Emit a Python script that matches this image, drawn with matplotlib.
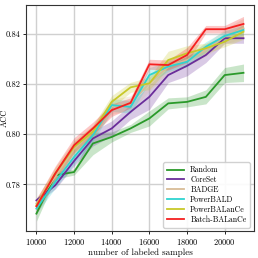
import numpy as np
import matplotlib
matplotlib.use("Agg")
import matplotlib.pyplot as plt

plt.rcParams["font.family"] = "serif"
plt.rcParams["font.serif"] = ["cmr10", "DejaVu Serif"]
plt.rcParams["axes.formatter.use_mathtext"] = True
plt.rcParams["mathtext.fontset"] = "cm"

samples = [10000, 11000, 12000, 13000, 14000, 15000, 16000, 17000, 18000, 19000, 20000, 21000]

random_acc = [0.7683, 0.7836, 0.7849, 0.7963, 0.7989, 0.8023, 0.8063, 0.8123, 0.8129, 0.8149, 0.8236, 0.8245]
random_err = [0.0030, 0.0015, 0.0012, 0.0045, 0.0020, 0.0016, 0.0030, 0.0022, 0.0020, 0.0028, 0.0030, 0.0035]

coreset_acc = [0.7736, 0.7796, 0.7893, 0.7983, 0.8023, 0.8089, 0.8149, 0.8236, 0.8273, 0.8316, 0.8383, 0.8383]
coreset_err = [0.0010, 0.0015, 0.0020, 0.0030, 0.0030, 0.0030, 0.0050, 0.0030, 0.0040, 0.0030, 0.0020, 0.0020]

badge_acc = [0.7723, 0.7830, 0.7943, 0.8010, 0.8110, 0.8123, 0.8203, 0.8270, 0.8296, 0.8336, 0.8390, 0.8423]
badge_err = [0.0025, 0.0025, 0.0025, 0.0025, 0.0030, 0.0030, 0.0030, 0.0025, 0.0025, 0.0025, 0.0030, 0.0040]

powerbald_acc = [0.7703, 0.7810, 0.7909, 0.7996, 0.8116, 0.8109, 0.8236, 0.8270, 0.8289, 0.8349, 0.8392, 0.8416]
powerbald_err = [0.0020, 0.0025, 0.0030, 0.0025, 0.0025, 0.0025, 0.0030, 0.0020, 0.0020, 0.0020, 0.0020, 0.0020]

powerbalance_acc = [0.7716, 0.7843, 0.7949, 0.8010, 0.8129, 0.8187, 0.8203, 0.8296, 0.8323, 0.8343, 0.8369, 0.8409]
powerbalance_err = [0.0025, 0.0025, 0.0025, 0.0025, 0.0025, 0.0020, 0.0025, 0.0035, 0.0030, 0.0020, 0.0020, 0.0030]

batch_acc = [0.7712, 0.7843, 0.7956, 0.8023, 0.8096, 0.8125, 0.8279, 0.8276, 0.8316, 0.8419, 0.8419, 0.8440]
batch_err = [0.0030, 0.0030, 0.0030, 0.0025, 0.0025, 0.0020, 0.0020, 0.0020, 0.0030, 0.0015, 0.0015, 0.0030]

series = [
    ("Random", random_acc, random_err, "#2a9a2a"),
    ("CoreSet", coreset_acc, coreset_err, "#6a2c9a"),
    ("BADGE", badge_acc, badge_err, "#d8bc96"),
    ("PowerBALD", powerbald_acc, powerbald_err, "#2ed3d0"),
    ("PowerBALanCe", powerbalance_acc, powerbalance_err, "#c8c828"),
    ("Batch-BALanCe", batch_acc, batch_err, "#f52020"),
]

fig = plt.figure(figsize=(2.58, 2.58), dpi=100)
ax = fig.add_axes([0.101, 0.103, 0.883, 0.878])

x = np.array(samples)
for name, acc, err, color in series:
    acc = np.array(acc)
    err = np.array(err)
    ax.fill_between(x, acc - err, acc + err, color=color, alpha=0.25, linewidth=0)
    ax.plot(x, acc, color=color, linewidth=1.3, label=name)

ax.set_xlim(9450, 21550)
ax.set_ylim(0.7612, 0.8516)
ax.set_xticks([10000, 12000, 14000, 16000, 18000, 20000])
ax.set_yticks([0.78, 0.80, 0.82, 0.84])
ax.set_yticklabels(["0.78", "0.80", "0.82", "0.84"])
ax.tick_params(labelsize=6, length=2.5, width=0.6, pad=1.5)
ax.grid(True, color="#d0d0d0", linewidth=1.0)
ax.set_axisbelow(True)
for sp in ax.spines.values():
    sp.set_color("#333333")
    sp.set_linewidth(0.8)
ax.set_xlabel("number of labeled samples", fontsize=6.5, labelpad=1)
ax.set_ylabel("ACC", fontsize=6)
ax.yaxis.set_label_coords(-0.075, 0.5)
ax.legend(loc="lower right", fontsize=5.6, handlelength=2.2, borderpad=0.45,
          labelspacing=0.2, framealpha=0.9, edgecolor="#cccccc", fancybox=True)

fig.savefig("out.png", dpi=100)
